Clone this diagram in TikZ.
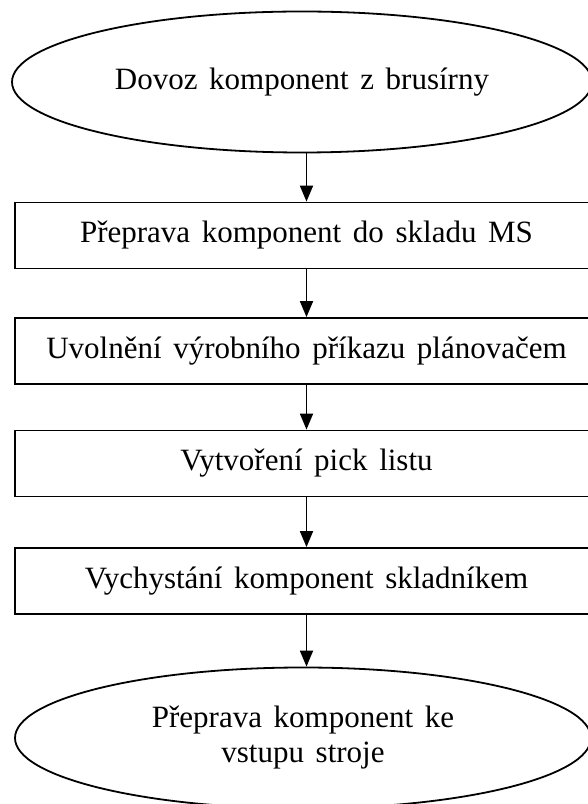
\documentclass[tikz,border=0pt]{standalone}
\usepackage{fontspec}
\setmainfont{Liberation Serif}[WordSpace=1.5]
\usetikzlibrary{shapes.geometric,arrows.meta}

\begin{document}
\begin{tikzpicture}[x=1pt, y=1pt, line width=1.8pt,
  every node/.style={font=\fontsize{31}{35}\selectfont},
  endnode/.style={draw, ellipse, inner sep=0pt, align=center,
    minimum width=580pt, minimum height=141pt},
  stepbox/.style={draw, rectangle, inner sep=0pt,
    minimum width=583pt, minimum height=66pt},
  flow/.style={-{Triangle[length=16pt, width=13pt]}}]
  \useasboundingbox (0,0) rectangle (588,804);

  \node[endnode] (dovoz) at (302,722) {Dovoz komponent z brusírny};
  \node[stepbox] (preprava) at (306.5,568.5) {Přeprava komponent do skladu MS};
  \node[stepbox] (uvolneni) at (306.5,453) {Uvolnění výrobního příkazu plánovačem};
  \node[stepbox] (picklist) at (306.5,340.5) {Vytvoření pick listu};
  \node[stepbox] (vychystani) at (306.5,223) {Vychystání komponent skladníkem};
  \node[endnode, minimum width=576pt, text depth=8pt] (prevoz) at (303,66)
  {Přeprava komponent ke\\vstupu stroje};

  \draw[flow] (dovoz.south -| preprava) -- (preprava);
  \draw[flow] (preprava) -- (uvolneni);
  \draw[flow] (uvolneni) -- (picklist);
  \draw[flow] (picklist) -- (vychystani);
  \draw[flow] (vychystani.south) -- (vychystani.south |- prevoz.north);
\end{tikzpicture}
\end{document}
